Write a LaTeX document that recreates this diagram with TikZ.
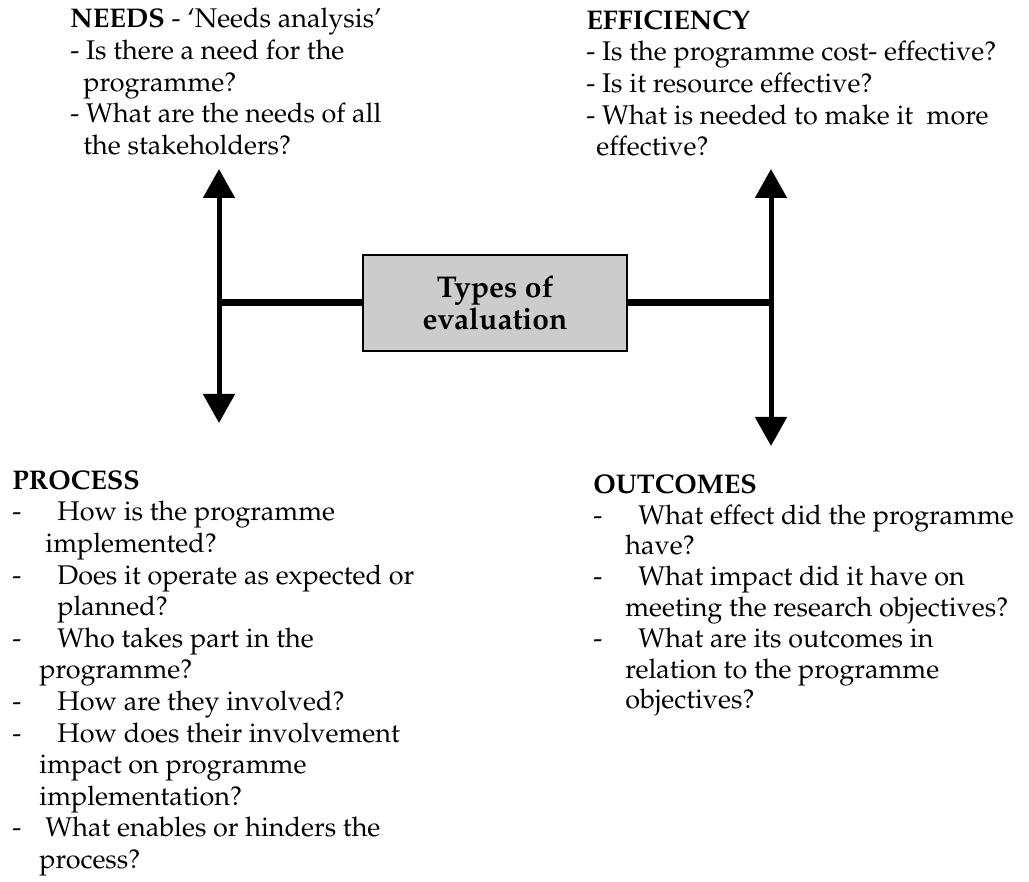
\documentclass[tikz,border=0pt]{standalone}
\usepackage[T1]{fontenc}
\usepackage{mathpazo}
\usetikzlibrary{arrows.meta}

\definecolor{boxgray}{HTML}{CCCCCC}
\newcommand{\itemdash}{\makebox[22.5pt][l]{-}}

\begin{document}
\begin{tikzpicture} [x = 0.5pt, y = -0.5pt,
  textblock/.style = {anchor = north west, inner sep = 0pt, align = left, font = \fontsize{13.5}{15.8}\selectfont},
  evalbox/.style = {draw = black, line width = 0.8pt, fill = boxgray, minimum width = 132pt, minimum height = 48pt, inner sep = 0pt, align = center, font = \fontsize{15}{16}\selectfont\bfseries},
  stem/.style = {line width = 2.5pt, {Triangle[width = 15.5pt, length = 14.5pt]}-{Triangle[width = 15.5pt, length = 14.5pt]}},
  bar/.style = {line width = 3.5pt}]
\useasboundingbox (0, 0) rectangle (1029, 882);
\coordinate (ntop) at (219, 169);
\coordinate (nbot) at (219, 423);
\coordinate (njoin) at (219, 303);
\coordinate (etop) at (771, 169);
\coordinate (ebot) at (771, 446);
\coordinate (ejoin) at (771, 303);
\node[evalbox] (types) at (495, 303){Types of\\evaluation};
\draw[bar] (types.west) -- (njoin);
\draw[bar] (types.east) -- (ejoin);
\draw[stem] (ntop) -- (nbot);
\draw[stem] (etop) -- (ebot);
\node[textblock] (needs) at (70, 8){\textbf{NEEDS} - `Needs analysis'\\
- Is there a need for the\\
\hspace*{6.5pt}programme?\\
- What are the needs of all\\
\hspace*{6.5pt}the stakeholders?};
\node[textblock] (efficiency) at (586, 10){\textbf{EFFICIENCY}\\
- Is the programme cost- effective?\\
- Is it resource effective?\\
- What is needed to make it\ \ more\\
\hspace*{5pt}effective?};
\node[textblock] (process) at (12, 470){\textbf{PROCESS}\\
\itemdash How is the programme\\
\hspace*{16.5pt}implemented?\\
\itemdash Does it operate as expected or\\
\hspace*{22.5pt}planned?\\
\itemdash Who takes part in the\\
\hspace*{13.5pt}programme?\\
\itemdash How are they involved?\\
\itemdash How does their involvement\\
\hspace*{13.5pt}impact on programme\\
\hspace*{13.5pt}implementation?\\
\makebox[16.5pt][l]{-}What enables or hinders the\\
\hspace*{13.5pt}process?};
\node[textblock, font = \fontsize{13.5}{15.4}\selectfont] (outcomes) at (593, 474){\textbf{OUTCOMES}\\
\itemdash What effect did the programme\\
\hspace*{16pt}have?\\
\itemdash What impact did it have on\\
\hspace*{16pt}meeting the research objectives?\\
\itemdash What are its outcomes in\\
\hspace*{16pt}relation to the programme\\
\hspace*{16pt}objectives?};
\end{tikzpicture}
\end{document}
